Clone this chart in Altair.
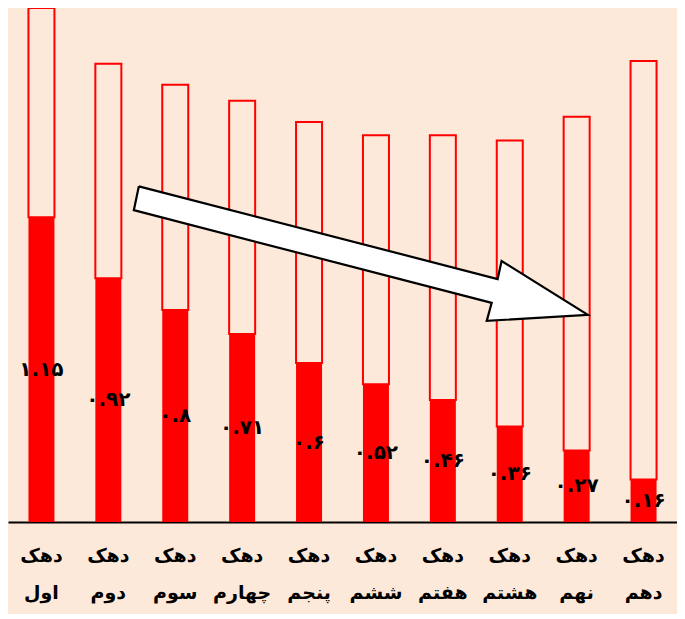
import altair as alt
import pandas as pd

# ---- data ----
categories = ["دهک اول", "دهک دوم", "دهک سوم", "دهک چهارم", "دهک پنجم",
              "دهک ششم", "دهک هفتم", "دهک هشتم", "دهک نهم", "دهک دهم"]
values = [1.15, 0.92, 0.80, 0.71, 0.60, 0.52, 0.46, 0.36, 0.27, 0.16]
upper = [0.79, 0.81, 0.85, 0.88, 0.91, 0.94, 1.00, 1.08, 1.26, 1.58]
value_labels = ["۱.۱۵", "۰.۹۲", "۰.۸", "۰.۷۱", "۰.۶", "۰.۵۲", "۰.۴۶", "۰.۳۶", "۰.۲۷", "۰.۱۶"]

# arrow outline in (decile index, value) units
arrow_x = [1.456, 6.819, 6.878, 8.167, 6.656, 6.730, 1.381, 1.456]
arrow_y = [1.267, 0.917, 0.985, 0.782, 0.759, 0.827, 1.177, 1.267]

BG = "#FDE9D9"
RED = "#FF0000"
FONT = "DejaVu Sans"

df = pd.DataFrame({
    "cat": categories,
    "value": values,
    "total": [v + u for v, u in zip(values, upper)],
    "label": value_labels,
})
arrow_df = pd.DataFrame({"i": list(range(len(arrow_x))), "ax": arrow_x, "ay": arrow_y})

yscale = alt.Scale(domain=[0, 1.94], nice=False, zero=True)
xenc = alt.X("cat:N", sort=categories, title=None,
             scale=alt.Scale(paddingInner=0, paddingOuter=0),
             axis=alt.Axis(labelAngle=0, labelExpr="split(datum.label, ' ')",
                           labelFont=FONT, labelFontSize=19, labelFontWeight="bold",
                           labelColor="black", labelLineHeight=37, labelPadding=24,
                           ticks=False, domainColor="black", domainWidth=2,
                           grid=False))

base = alt.Chart(df)

outline = base.mark_bar(size=26, fill=BG, stroke=RED, strokeWidth=2).encode(
    x=xenc,
    y=alt.Y("value:Q", scale=yscale, axis=None),
    y2="total:Q",
)

red = base.mark_bar(size=26, color=RED).encode(
    x=xenc,
    y=alt.Y("value:Q", scale=yscale, axis=None),
)

text = base.transform_calculate(mid="datum.value / 2").mark_text(
    font=FONT, fontSize=20, fontWeight="bold", color="black", baseline="middle", align="center"
).encode(
    x=xenc,
    y=alt.Y("mid:Q", scale=yscale, axis=None),
    text="label:N",
)

arrow = alt.Chart(arrow_df).mark_line(
    fill="white", stroke="black", strokeWidth=2.2, strokeJoin="miter"
).encode(
    x=alt.X("ax:Q", scale=alt.Scale(domain=[-0.5, 9.5], nice=False, zero=False), axis=None),
    y=alt.Y("ay:Q", scale=yscale, axis=None),
    order=alt.Order("i:Q"),
)

bars = alt.layer(outline, red, text)

chart = alt.layer(bars, arrow).resolve_scale(x="independent").properties(
    width=669, height=514,
    autosize=alt.AutoSizeParams(type="none"),
    padding={"left": 0, "top": 0, "right": 0, "bottom": 92},
    background=BG,
).configure_view(stroke=None)

chart.save("out.html", embed_options={"renderer": "svg", "actions": False})
